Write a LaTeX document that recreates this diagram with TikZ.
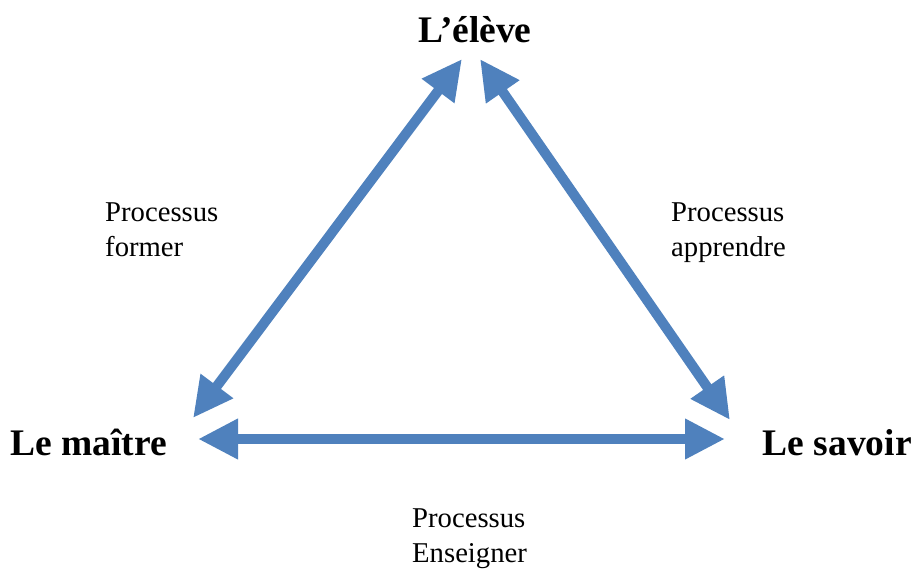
\documentclass[tikz,border=0pt]{standalone}
\usepackage{fontspec}
\setmainfont{Liberation Serif}
\usepackage{tikz}
\usetikzlibrary{arrows.meta}
\definecolor{flecheblue}{HTML}{4F81BD}
\tikzset{
    sommet/.style={font=\bfseries\fontsize{37.5}{42}\selectfont, inner sep=0pt},
    processus/.style={font=\fontsize{28.7}{34.5}\selectfont, align=left, inner sep=0pt, anchor=north west},
    fleche/.style={draw=flecheblue, line width=10pt,
        {Triangle[length=40pt,width=38pt]}-{Triangle[length=40pt,width=38pt]}}
}

\begin{document}
\begin{tikzpicture}[x=1pt,y=-1pt]
        \useasboundingbox (0,0) rectangle (914,570);
        \node[sommet, anchor=base] (eleve) at (475,42) {L’élève};
        \node[sommet, anchor=base west] (maitre) at (10,455) {Le maître};
        \node[sommet, anchor=base east] (savoir) at (912,455) {Le savoir};
        \coordinate (eleveG) at (462,59);
        \coordinate (eleveD) at (480,59);
        \coordinate (maitreH) at (193,418);
        \coordinate (maitreB) at (198,439);
        \coordinate (savoirH) at (730,420);
        \coordinate (savoirB) at (725,439);
        \draw[fleche] (maitreH) -- (eleveG);
        \draw[fleche] (eleveD) -- (savoirH);
        \draw[fleche] (maitreB) -- (savoirB);
        \node[processus] (former) at (105,203) {Processus\\former};
        \node[processus] (apprendre) at (671,203) {Processus\\apprendre};
        \node[processus] (enseigner) at (412,509) {Processus\\Enseigner};
    \end{tikzpicture}
\end{document}
